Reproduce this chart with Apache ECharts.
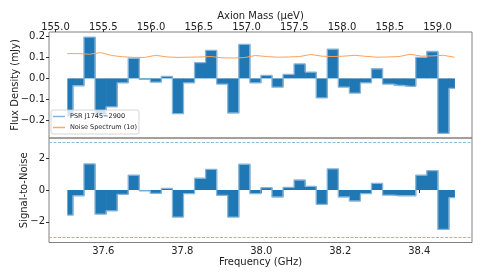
<!DOCTYPE html>
<html>
<head>
<meta charset="utf-8">
<script src="https://cdn.jsdelivr.net/npm/echarts@6/dist/echarts.min.js"></script>
<style>
html,body{margin:0;padding:0;background:#fff;}
#chart{width:484px;height:277px;}
</style>
</head>
<body>
<div id="chart"></div>
<script>
// Channel centre frequencies (GHz)
const freqs = [37.509, 37.537, 37.565, 37.593, 37.621, 37.649, 37.677, 37.705, 37.733, 37.761,
  37.789, 37.817, 37.845, 37.873, 37.901, 37.929, 37.957, 37.985, 38.013, 38.041,
  38.069, 38.097, 38.125, 38.153, 38.181, 38.209, 38.237, 38.265, 38.293, 38.321,
  38.349, 38.377, 38.405, 38.433, 38.461, 38.489];
// Flux density (mJy)
const flux = [-0.180, -0.035, 0.197, -0.175, -0.136, -0.021, 0.096, -0.005, -0.018, 0.010,
  -0.168, -0.021, 0.075, 0.133, -0.027, -0.165, 0.162, -0.021, 0.014, -0.042,
  0.019, 0.069, 0.030, -0.093, 0.139, -0.042, -0.070, -0.021, 0.046, -0.027,
  -0.034, -0.038, 0.100, 0.128, -0.262, -0.048];
// Noise spectrum, 1 sigma (mJy)
const noise = [0.118, 0.118, 0.115, 0.123, 0.109, 0.103, 0.100, 0.100, 0.110, 0.102,
  0.100, 0.101, 0.102, 0.104, 0.098, 0.097, 0.099, 0.109, 0.104, 0.101,
  0.102, 0.104, 0.114, 0.106, 0.104, 0.106, 0.110, 0.105, 0.101, 0.102,
  0.104, 0.115, 0.106, 0.107, 0.110, 0.101];
// Signal-to-noise
const snr = [-1.58, -0.36, 1.64, -1.52, -1.31, -0.27, 0.93, -0.06, -0.21, 0.10,
  -1.70, -0.23, 0.74, 1.30, -0.34, -1.70, 1.62, -0.23, 0.15, -0.44,
  0.17, 0.63, 0.23, -0.90, 1.33, -0.44, -0.69, -0.23, 0.42, -0.32,
  -0.36, -0.36, 0.93, 1.22, -2.48, -0.48];
const snrLimits = [3, -3];

// Tick labels
const freqTicks = [37.6, 37.8, 38.0, 38.2, 38.4];
const massTicks = [155.0, 155.5, 156.0, 156.5, 157.0, 157.5, 158.0, 158.5, 159.0];
const fluxTicks = [-0.2, -0.1, 0.0, 0.1, 0.2];
const snrTicks = [-2, 0, 2];

const GHZ_TO_UEV = 4.135667;
const xMin = 37.4625, xMax = 38.5335;

const FONT = 'DejaVu Sans';
const FILL = '#1f77b4';
const EDGE = '#86b5d9';
const fmt = (d) => (v) => (v < -1e-9 ? '\u2212' : '') + Math.abs(v).toFixed(d);
const tickStyle = {color: '#333', width: 1};
const lblStyle = {fontFamily: FONT, fontSize: 10, color: '#222'};
const nameStyle = {fontFamily: FONT, fontSize: 10, color: '#222'};

// step-mid filled bars: each channel spans halfway to its neighbours
function stepBars(params, api) {
  const i = params.dataIndex;
  const f = api.value(0), v = api.value(1);
  const left = i === 0 ? f : (freqs[i - 1] + f) / 2;
  const right = i === freqs.length - 1 ? f : (f + freqs[i + 1]) / 2;
  const p1 = api.coord([left, v]);
  const p0 = api.coord([right, 0]);
  const x = p1[0], w = p0[0] - p1[0] + 0.5;
  const y = Math.min(p1[1], p0[1]), h = Math.abs(p0[1] - p1[1]);
  return {type: 'rect', shape: {x: x, y: y, width: w, height: h},
    style: {fill: FILL, stroke: null}};
}

const chart = echarts.init(document.getElementById('chart'), null, {renderer: 'canvas'});
const option = {
  animation: false,
  backgroundColor: '#fff',
  textStyle: {fontFamily: FONT},
  legend: {
    data: [{name: 'PSR J1745\u22122900', icon: 'rect'}, {name: 'Noise Spectrum (1\u03c3)', icon: 'rect'}],
    orient: 'vertical', left: 51, top: 110,
    itemWidth: 12, itemHeight: 1.5, itemGap: 4,
    padding: [3, 2, 3, 2],
    backgroundColor: 'rgba(255,255,255,0.8)',
    borderColor: '#cccccc', borderWidth: 0.8, borderRadius: 2,
    textStyle: {fontFamily: FONT, fontSize: 6.5, color: '#222'}
  },
  grid: [
    {left: 49, top: 32, width: 423, height: 106, show: true, borderColor: '#808080', borderWidth: 1},
    {left: 49, top: 138, width: 423, height: 104.5, show: true, borderColor: '#808080', borderWidth: 1}
  ],
  xAxis: [
    {gridIndex: 0, type: 'value', min: xMin, max: xMax, position: 'bottom',
     axisLine: {show: false}, axisTick: {show: false}, axisLabel: {show: false}, splitLine: {show: false}},
    {gridIndex: 0, type: 'value', min: xMin * GHZ_TO_UEV, max: xMax * GHZ_TO_UEV, position: 'top',
     name: 'Axion Mass (\u03bceV)', nameLocation: 'middle', nameGap: 11, nameMoveOverlap: false,
     nameTextStyle: nameStyle,
     axisLine: {show: false}, splitLine: {show: false},
     axisTick: {show: true, length: 3, customValues: massTicks, lineStyle: tickStyle},
     axisLabel: {customValues: massTicks, formatter: fmt(1), margin: 0, ...lblStyle}},
    {gridIndex: 1, type: 'value', min: xMin, max: xMax, position: 'bottom',
     name: 'Frequency (GHz)', nameLocation: 'middle', nameGap: 15, nameMoveOverlap: false,
     nameTextStyle: nameStyle,
     axisLine: {show: false}, splitLine: {show: false},
     axisTick: {show: true, length: 3, customValues: freqTicks, lineStyle: tickStyle},
     axisLabel: {customValues: freqTicks, formatter: fmt(1), margin: 4, ...lblStyle}}
  ],
  yAxis: [
    {gridIndex: 0, type: 'value', min: -0.284, max: 0.221,
     name: 'Flux Density (mJy)', nameLocation: 'middle', nameGap: 29, nameMoveOverlap: false,
     nameTextStyle: nameStyle,
     axisLine: {show: false}, splitLine: {show: false},
     axisTick: {show: true, length: 3, customValues: fluxTicks, lineStyle: tickStyle},
     axisLabel: {customValues: fluxTicks, formatter: fmt(1), margin: 4, ...lblStyle}},
    {gridIndex: 1, type: 'value', min: -3.3, max: 3.27,
     name: 'Signal-to-Noise', nameLocation: 'middle', nameGap: 20, nameMoveOverlap: false,
     nameTextStyle: nameStyle,
     axisLine: {show: false}, splitLine: {show: false},
     axisTick: {show: true, length: 3, customValues: snrTicks, lineStyle: tickStyle},
     axisLabel: {customValues: snrTicks, formatter: fmt(0), margin: 4, ...lblStyle}}
  ],
  series: [
    {name: 'fluxFill', type: 'custom', xAxisIndex: 0, yAxisIndex: 0,
     data: freqs.map((f, i) => [f, flux[i]]), renderItem: stepBars, silent: true, z: 1},
    {name: 'PSR J1745\u22122900', type: 'line', xAxisIndex: 0, yAxisIndex: 0, step: 'middle',
     symbol: 'none', data: freqs.map((f, i) => [f, flux[i]]),
     itemStyle: {color: EDGE}, lineStyle: {color: EDGE, width: 1.3}, z: 2},
    {name: 'Noise Spectrum (1\u03c3)', type: 'line', xAxisIndex: 0, yAxisIndex: 0,
     symbol: 'none', data: freqs.map((f, i) => [f, noise[i]]),
     itemStyle: {color: '#ffa85e'}, lineStyle: {color: '#ffa05a', width: 1}, z: 3},
    {name: 'snrFill', type: 'custom', xAxisIndex: 2, yAxisIndex: 1,
     data: freqs.map((f, i) => [f, snr[i]]), renderItem: stepBars, silent: true, z: 1},
    {name: 'snr', type: 'line', xAxisIndex: 2, yAxisIndex: 1, step: 'middle',
     symbol: 'none', data: freqs.map((f, i) => [f, snr[i]]),
     itemStyle: {color: EDGE}, lineStyle: {color: EDGE, width: 1.3}, z: 2,
     markLine: {silent: true, symbol: ['none', 'none'], label: {show: false},
       lineStyle: {type: [3, 1.5], color: '#8fbbd9', width: 1.2},
       data: snrLimits.map(v => ({yAxis: v}))}}
  ]
};
chart.setOption(option);
</script>
</body>
</html>
